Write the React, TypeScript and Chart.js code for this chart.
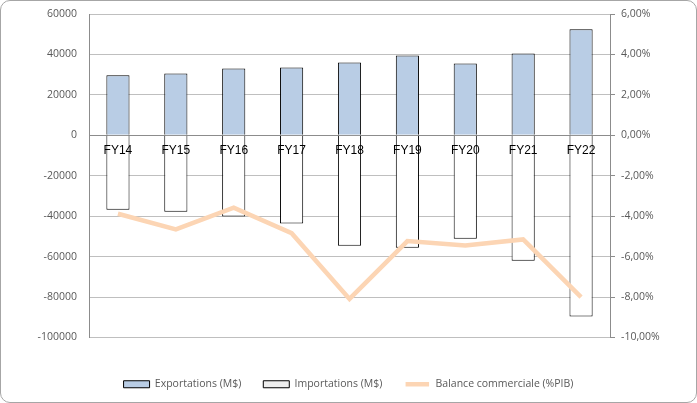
import React, { useEffect, useRef } from "react";
import { Chart, registerables } from "chart.js";

Chart.register(...registerables);

const categories = ["FY14", "FY15", "FY16", "FY17", "FY18", "FY19", "FY20", "FY21", "FY22"];
const exportations = [29700, 30600, 33000, 33500, 36000, 39500, 35500, 40500, 52500];
const importations = [-36800, -37800, -40100, -43600, -54600, -55600, -51200, -62100, -89600];
const balance = [-3.88, -4.65, -3.58, -4.84, -8.09, -5.23, -5.45, -5.15, -8.0];

const seriesNames = ["Exportations (M$)", "Importations (M$)", "Balance commerciale (%PIB)"];
const leftRange = [-100000, 60000, 20000];
const rightRange = [-10, 6, 2];

const TICK_FONT = { family: "'Open Sans', sans-serif", size: 10.5 };
const GREY_TEXT = "#595959";
const EXPORT_FILL = "#B9CDE5";
const LINE_COLOR = "#FCD5B4";

export default function App() {
  const ref = useRef<HTMLCanvasElement | null>(null);

  useEffect(() => {
    if (!ref.current) return;
    const chart = new Chart(ref.current, {
      type: "bar",
      data: {
        labels: categories,
        datasets: [
          {
            type: "bar",
            label: seriesNames[0],
            data: exportations,
            backgroundColor: EXPORT_FILL,
            borderColor: "#000000",
            borderWidth: 1,
            barPercentage: 0.4,
            categoryPercentage: 1,
            yAxisID: "y",
            order: 2,
          },
          {
            type: "bar",
            label: seriesNames[1],
            data: importations,
            backgroundColor: "#FFFFFF",
            borderColor: "#000000",
            borderWidth: 1,
            barPercentage: 0.4,
            categoryPercentage: 1,
            yAxisID: "y",
            order: 2,
          },
          {
            type: "line",
            label: seriesNames[2],
            data: balance,
            borderColor: LINE_COLOR,
            backgroundColor: LINE_COLOR,
            borderWidth: 4.5,
            pointRadius: 0,
            tension: 0,
            yAxisID: "y2",
            order: 1,
          },
        ],
      },
      options: {
        responsive: false,
        animation: false,
        layout: { padding: { top: 14, bottom: 3.5, left: 0, right: 0 } },
        scales: {
          x: {
            type: "category",
            stacked: true,
            position: { y: 0 } as any,
            grid: { display: false, drawTicks: false },
            border: { display: false },
            ticks: {
              z: 1,
              color: "#000000",
              font: { family: "'Liberation Sans', Arial, sans-serif", size: 12 },
              padding: 8,
              maxRotation: 0,
            },
          },
          y: {
            position: "left",
            stacked: true,
            min: leftRange[0],
            max: leftRange[1],
            ticks: {
              stepSize: leftRange[2],
              color: GREY_TEXT,
              font: TICK_FONT,
              padding: 2,
              callback: (v: any) => String(v),
            },
            grid: {
              drawTicks: true,
              tickLength: 10,
              tickColor: "rgba(0,0,0,0)",
              color: (ctx: any) => (ctx.tick && ctx.tick.value === 0 ? "#8C8C8C" : "#BFBFBF"),
            },
            border: { color: "#8C8C8C" },
            afterFit: (s: any) => {
              s.width = 89;
            },
          },
          y2: {
            position: "right",
            stacked: false,
            min: rightRange[0],
            max: rightRange[1],
            ticks: {
              stepSize: rightRange[2],
              color: GREY_TEXT,
              font: TICK_FONT,
              padding: 6,
              callback: (v: any) => Number(v).toFixed(2).replace(".", ",") + "%",
            },
            grid: {
              drawOnChartArea: false,
              drawTicks: true,
              tickLength: 5,
              color: "#8C8C8C",
            },
            border: { color: "#8C8C8C" },
            afterFit: (s: any) => {
              s.width = 87;
            },
          },
        },
        plugins: {
          tooltip: { enabled: false },
          title: {
            display: true,
            position: "bottom",
            text: "",
            weight: 500,
            font: { size: 10, lineHeight: 1 },
            padding: { top: 0, bottom: 9.5 },
          } as any,
          legend: {
            display: true,
            position: "bottom",
            labels: {
              boxWidth: 26,
              boxHeight: 7,
              padding: 22,
              color: GREY_TEXT,
              font: TICK_FONT,
              generateLabels: () => [
                {
                  text: seriesNames[0],
                  fillStyle: EXPORT_FILL,
                  strokeStyle: "#000000",
                  lineWidth: 1,
                  fontColor: GREY_TEXT,
                  datasetIndex: 0,
                  hidden: false,
                },
                {
                  text: seriesNames[1],
                  fillStyle: "#EEEEEE",
                  strokeStyle: "#000000",
                  lineWidth: 1,
                  fontColor: GREY_TEXT,
                  datasetIndex: 1,
                  hidden: false,
                },
                {
                  text: seriesNames[2],
                  fillStyle: LINE_COLOR,
                  strokeStyle: "#FFFFFF",
                  lineWidth: 2.5,
                  fontColor: GREY_TEXT,
                  datasetIndex: 2,
                  hidden: false,
                },
              ],
            },
          },
        },
      },
    });
    return () => chart.destroy();
  }, []);

  return (
    <div style={{ position: "fixed", left: 0, top: 0, width: 697, height: 403, background: "#fff" }}>
      <canvas ref={ref} width={697} height={403} style={{ position: "absolute", left: 0, top: 0, width: 697, height: 403 }} />
      <div
        style={{
          position: "absolute",
          left: 0,
          top: 0,
          width: 697,
          height: 403,
          boxSizing: "border-box",
          border: "1px solid #A6A6A6",
          borderRadius: 10,
          pointerEvents: "none",
        }}
      />
    </div>
  );
}
